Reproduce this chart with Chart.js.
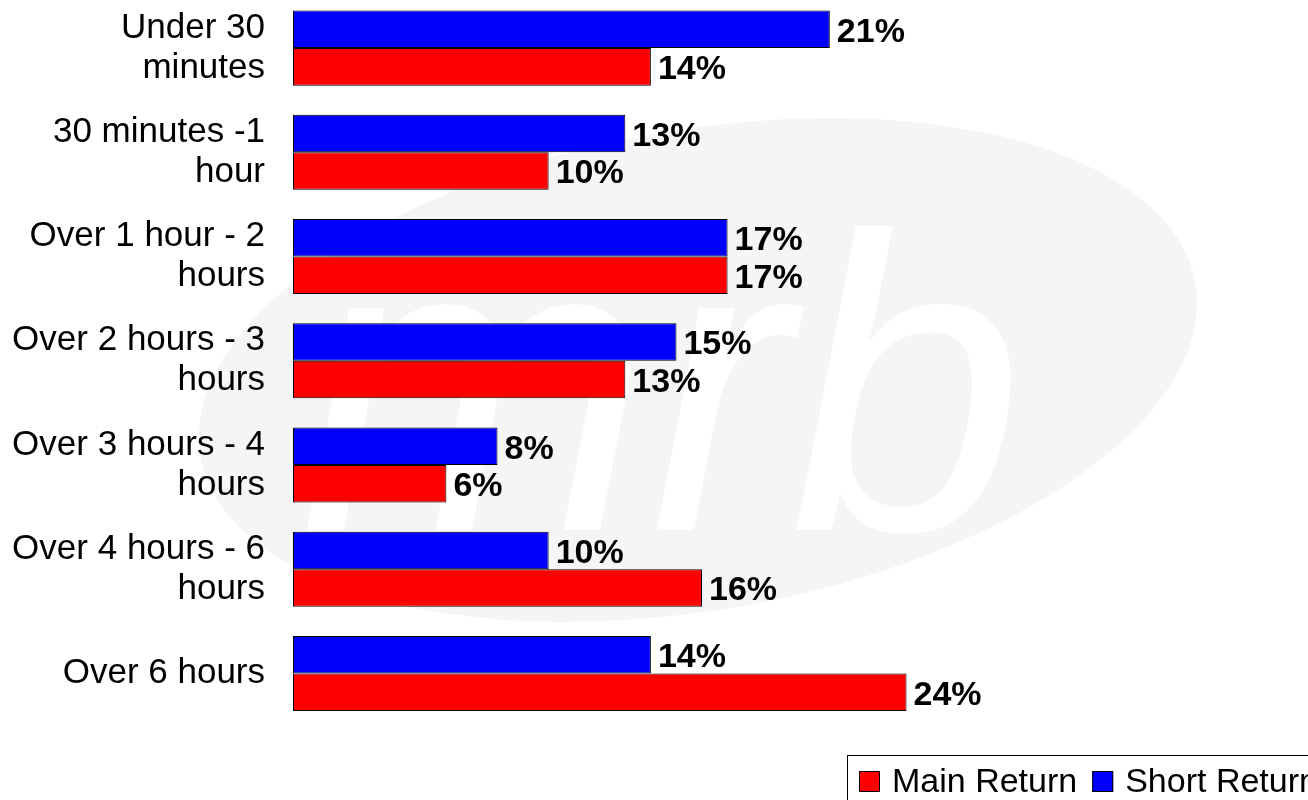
<!DOCTYPE html>
<html>
<head>
<meta charset="utf-8">
<script src="https://cdn.jsdelivr.net/npm/chart.js@4.4.1/dist/chart.umd.min.js"></script>
<style>
html, body { margin: 0; padding: 0; background: #fff; overflow: hidden; }
#wrap { position: absolute; left: 0; top: -4px; width: 1308px; height: 804px; }
</style>
</head>
<body>
<div id="wrap"><canvas id="chart"></canvas></div>
<script>
// data
const categories = [
    ['Under 30', 'minutes'],
    ['30 minutes -1', 'hour'],
    ['Over 1 hour - 2', 'hours'],
    ['Over 2 hours - 3', 'hours'],
    ['Over 3 hours - 4', 'hours'],
    ['Over 4 hours - 6', 'hours'],
    'Over 6 hours'
];
const shortReturn = [21, 13, 17, 15, 8, 10, 14];
const mainReturn = [14, 10, 17, 13, 6, 16, 24];

const FONT = '"Liberation Sans", Arial, sans-serif';

// faint logo watermark behind the chart
const watermark = {
    id: 'watermark',
    beforeDraw(chart) {
        const ctx = chart.ctx;
        ctx.save();
        ctx.translate(0, 4); // canvas sits 4px above the page
        ctx.fillStyle = '#f5f5f5';
        ctx.beginPath();
        ctx.ellipse(698, 370, 505, 240, -0.173, 0, Math.PI * 2);
        ctx.fill();
        ctx.fillStyle = '#ffffff';
        ctx.font = 'italic 420px ' + FONT;
        ctx.textAlign = 'left';
        ctx.textBaseline = 'alphabetic';
        ctx.fillText('mrb', 300, 530);
        ctx.restore();
    }
};

// percentage labels at the end of each bar
const valueLabels = {
    id: 'valueLabels',
    afterDatasetsDraw(chart) {
        const ctx = chart.ctx;
        ctx.save();
        ctx.font = 'bold 34px ' + FONT;
        ctx.fillStyle = '#000';
        ctx.textAlign = 'left';
        ctx.textBaseline = 'middle';
        chart.data.datasets.forEach((ds, i) => {
            chart.getDatasetMeta(i).data.forEach((bar, j) => {
                ctx.fillText(ds.data[j] + '%', bar.x + 7, bar.y + 3);
            });
        });
        ctx.restore();
    }
};

// boxed legend in the bottom right corner (runs off the edge like the original)
const boxLegend = {
    id: 'boxLegend',
    afterDraw(chart) {
        const ctx = chart.ctx;
        const items = chart.data.datasets.slice().reverse();
        ctx.save();
        ctx.strokeStyle = '#000';
        ctx.lineWidth = 1;
        ctx.strokeRect(847.5, 759.5, 600, 100);
        ctx.font = '34px ' + FONT;
        ctx.textBaseline = 'middle';
        ctx.textAlign = 'left';
        let x = 859;
        items.forEach(ds => {
            ctx.fillStyle = ds.backgroundColor;
            ctx.fillRect(x, 775, 21, 21);
            ctx.strokeRect(x + 0.5, 775.5, 20, 20);
            ctx.fillStyle = '#000';
            ctx.fillText(ds.label, x + 33, 787);
            x += 33 + ctx.measureText(ds.label).width + 15;
        });
        ctx.restore();
    }
};

new Chart(document.getElementById('chart'), {
    type: 'bar',
    data: {
        labels: categories,
        datasets: [
            {
                label: 'Short Return',
                data: shortReturn,
                backgroundColor: '#0000ff',
                borderColor: '#000',
                borderWidth: 1,
                borderSkipped: false
            },
            {
                label: 'Main Return',
                data: mainReturn,
                backgroundColor: '#ff0000',
                borderColor: '#000',
                borderWidth: 1,
                borderSkipped: false
            }
        ]
    },
    options: {
        indexAxis: 'y',
        responsive: true,
        maintainAspectRatio: false,
        animation: false,
        datasets: {
            bar: { categoryPercentage: 0.72, barPercentage: 1.0 }
        },
        layout: { padding: { top: 0, right: 18, bottom: 74.4, left: 0 } },
        plugins: {
            legend: { display: false },
            tooltip: { enabled: false }
        },
        scales: {
            x: {
                display: false,
                min: 0,
                max: 39
            },
            y: {
                grid: { display: false, drawTicks: false },
                border: { display: false },
                ticks: {
                    color: '#000',
                    padding: 28,
                    font: { family: FONT, size: 35, lineHeight: 40 / 35 }
                },
                afterFit(scale) {
                    scale.width = 293;
                    // labels may overhang the plot area, like the original
                    scale.paddingTop = 0;
                    scale.paddingBottom = 0;
                }
            }
        }
    },
    plugins: [watermark, valueLabels, boxLegend]
});
</script>
</body>
</html>
